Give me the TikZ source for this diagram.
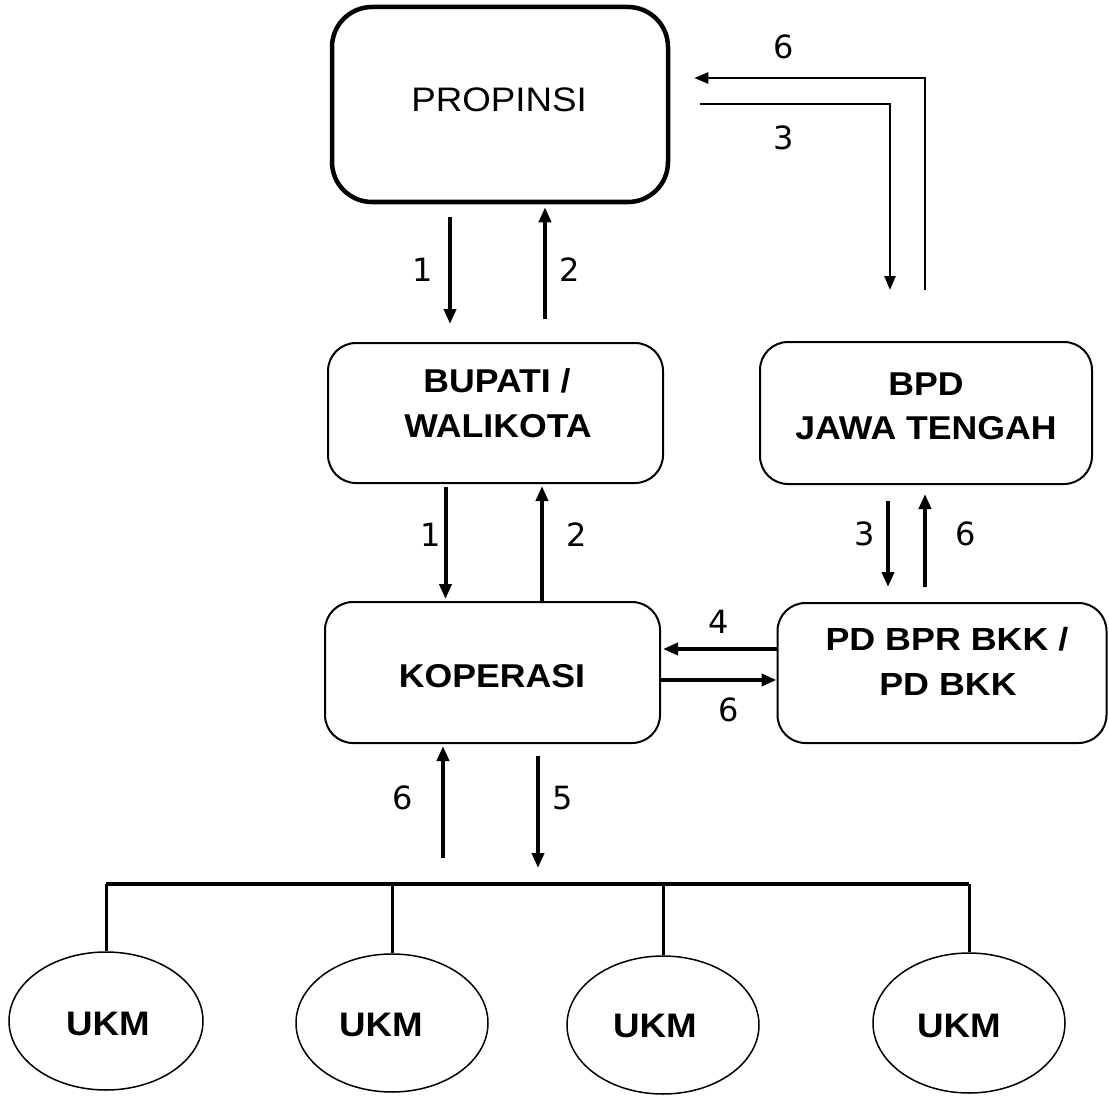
\documentclass[tikz,border=0pt]{standalone}
\usepackage{fontspec}
\setmainfont{Liberation Sans}
\newfontfamily\boxfont{Liberation Sans}[FakeStretch=1.08]
\newfontfamily\wideboxfont{Liberation Sans}[FakeStretch=1.12]
\newfontfamily\numfont{DejaVu Sans}
\usetikzlibrary{arrows.meta,shapes.geometric}
\begin{document}
\begin{tikzpicture}[x=1pt,y=-1pt,
  box/.style={draw, rounded corners=28pt, line width=2pt, inner sep=0pt},
  txt/.style={anchor=base, inner sep=0pt, font=\boxfont\bfseries\fontsize{33}{38}\selectfont},
  txtw/.style={anchor=base, inner sep=0pt, font=\wideboxfont\bfseries\fontsize{32}{38}\selectfont},
  txtr/.style={anchor=base, inner sep=0pt, font=\boxfont\fontsize{34}{38}\selectfont},
  txtu/.style={anchor=base, inner sep=0pt, font=\boxfont\bfseries\fontsize{34}{38}\selectfont},
  num/.style={inner sep=0pt, font=\numfont\fontsize{32}{38}\selectfont},
  arr/.style={line width=4pt, -{Triangle[length=15pt,width=12pt]}},
  thinarr/.style={line width=2.5pt, -{Triangle[length=14pt,width=11pt]}},
  busline/.style={line width=4pt},
  dropline/.style={line width=3pt},
  ukm/.style={draw, ellipse, line width=1.5pt, inner sep=0pt}]
\useasboundingbox (0,0) rectangle (1109,1097);

% boxes
\node[box, rounded corners=40pt, line width=4.5pt, minimum width=336pt, minimum height=195pt] (prop) at (500,104.5) {};
\node[box, minimum width=335pt, minimum height=140pt] (bup) at (495.5,413) {};
\node[box, minimum width=332pt, minimum height=142pt] (bpd) at (926,413) {};
\node[box, minimum width=335pt, minimum height=141pt] (kop) at (492.5,672.5) {};
\node[box, minimum width=329pt, minimum height=140pt] (pd) at (942,673) {};

% texts
\node[txtr] (tprop) at (499,112) {PROPINSI};
\node[txt] (tbup1) at (497,392) {BUPATI /};
\node[txt] (tbup2) at (498,437) {WALIKOTA};
\node[txt] (tbpd1) at (926,395) {BPD};
\node[txt] (tbpd2) at (926,439) {JAWA TENGAH};
\node[txt] (tkop) at (492,687) {KOPERASI};
\node[txtw] (tpd1) at (947,650) {PD BPR BKK /};
\node[txtw] (tpd2) at (948,695) {PD BKK};

% UKM ellipses
\node[ukm, minimum width=194pt, minimum height=138pt] (u1) at (106,1021) {};
\node[ukm, minimum width=192pt, minimum height=138pt] (u2) at (392,1023) {};
\node[ukm, minimum width=192pt, minimum height=138pt] (u3) at (663,1025) {};
\node[ukm, minimum width=192pt, minimum height=140pt] (u4) at (969,1023) {};
\node[txtu] (tu1) at (108,1035) {UKM};
\node[txtu] (tu2) at (381,1036) {UKM};
\node[txtu] (tu3) at (655,1037) {UKM};
\node[txtu] (tu4) at (959,1037) {UKM};

% bus
\coordinate (busy) at (0,884);
\draw[busline] (u1.north |- busy) -- (u4.north |- busy);
\draw[dropline] (u1.north |- busy) -- (u1.north);
\draw[dropline] (u2.north |- busy) -- (u2.north);
\draw[dropline] (u3.north |- busy) -- (u3.north);
\draw[dropline] (u4.north |- busy) -- (u4.north);

% PROPINSI <-> BUPATI
\draw[arr, shorten <=13pt, shorten >=18pt] ([xshift=-50pt]prop.south) -- ([xshift=-50pt]prop.south |- bup.north);
\draw[arr, shorten <=23pt, shorten >=3pt] ([xshift=45pt]prop.south |- bup.north) -- ([xshift=45pt]prop.south);
\node[num] (n1a) at (423,270) {1};
\node[num] (n2a) at (570,270) {2};

% BUPATI <-> KOPERASI
\draw[arr, shorten <=3pt, shorten >=2pt] ([xshift=-50pt]bup.south) -- ([xshift=-50pt]bup.south |- kop.north);
\draw[arr, shorten >=2pt] ([xshift=49.5pt]kop.north) -- ([xshift=49.5pt]kop.north |- bup.south);
\node[num] (n1b) at (431,535) {1};
\node[num] (n2b) at (577,535) {2};

% BPD <-> PD BPR
\draw[arr, shorten <=16pt, shorten >=15pt] ([xshift=-38pt]bpd.south) -- ([xshift=-38pt]bpd.south |- pd.north);
\draw[arr, shorten <=15pt, shorten >=9pt] ([xshift=-1pt]bpd.south |- pd.north) -- ([xshift=-1pt]bpd.south);
\node[num] (n3b) at (865,534) {3};
\node[num] (n6b) at (966,534) {6};

% PD BPR <-> KOPERASI
\draw[arr, shorten >=2pt] ([yshift=24pt]pd.west) -- ([yshift=24pt]pd.west -| kop.east);
\draw[arr] ([yshift=-7pt]pd.west -| kop.east) -- ([yshift=-7pt]pd.west);
\node[num] (n4) at (719,622) {4};
\node[num] (n6c) at (729,710) {6};

% KOPERASI <-> UKM bus
\draw[arr, shorten <=26pt, shorten >=2pt] ([xshift=-49.5pt]kop.south |- busy) -- ([xshift=-49.5pt]kop.south);
\draw[arr, shorten <=12pt, shorten >=16pt] ([xshift=45.5pt]kop.south) -- ([xshift=45.5pt]kop.south |- busy);
\node[num] (n6d) at (403,798) {6};
\node[num] (n5) at (563,798) {5};

% top loop between PROPINSI and BPD
\coordinate (t6s) at (925,290);
\coordinate (t6c) at (925,78);
\draw[thinarr, shorten >=24pt] (t6s) -- (t6c) -- (t6c -| prop.east);
\coordinate (t3c) at (890,104);
\coordinate (t3e) at (890,290);
\draw[thinarr, shorten <=30pt] (t3c -| prop.east) -- (t3c) -- (t3e);
\node[num] (n6a) at (784,47) {6};
\node[num] (n3a) at (784,138) {3};
\end{tikzpicture}
\end{document}
